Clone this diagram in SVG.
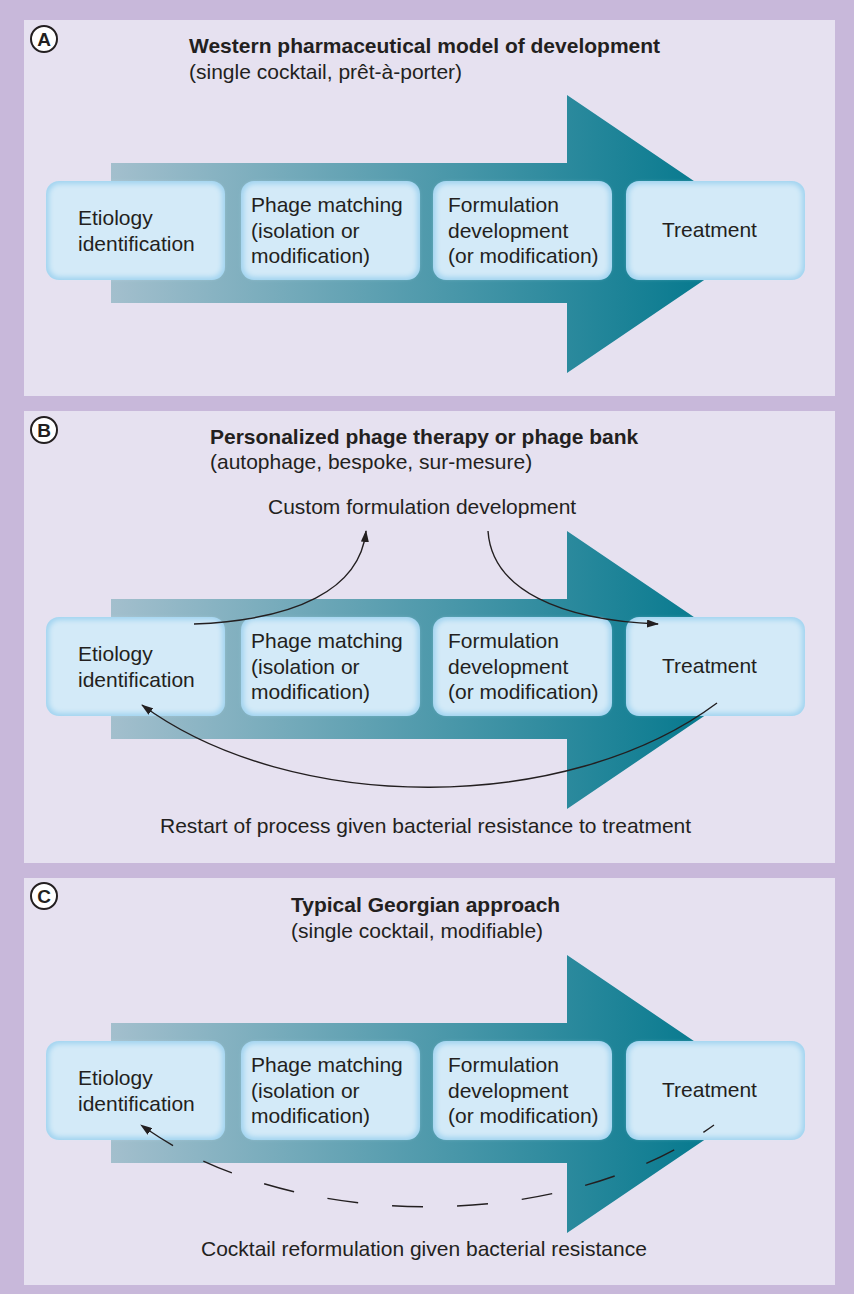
<svg xmlns="http://www.w3.org/2000/svg" width="854" height="1294" viewBox="0 0 854 1294">
<defs>
<style>
text{font-family:"Liberation Sans",Arial,sans-serif;fill:#231f20;font-size:21px}
.b{font-weight:bold}
.lt{font-weight:bold;font-size:19px;text-anchor:middle}
.pan{fill:#e6e1f0}
.bo{fill:#a2d4f0}
.bi{fill:#d3eaf8;filter:url(#soft)}
.con{fill:none;stroke:#231f20;stroke-width:1.4}
.dash{stroke-dasharray:31 34;stroke-dashoffset:18}
.arr{fill:url(#ag)}
.circ{fill:#fff;stroke:#231f20;stroke-width:2}
</style>
<linearGradient id="ag" gradientUnits="userSpaceOnUse" x1="111" y1="0" x2="700" y2="0">
<stop offset="0" stop-color="#a3bfcd"/>
<stop offset="1" stop-color="#087a8f"/>
</linearGradient>
<filter id="soft" x="-10%" y="-10%" width="120%" height="120%"><feGaussianBlur stdDeviation="2.4"/></filter>
<marker id="ah" viewBox="0 0 12 8" refX="11" refY="4" markerWidth="12" markerHeight="8" markerUnits="userSpaceOnUse" orient="auto"><path d="M0,0 L12,4 L0,8 Z" fill="#231f20"/></marker>
<path id="bigarrow" d="M111,163 H567 V95 L772,234 L567,373 V303 H111 Z"/>
</defs>
<rect width="854" height="1294" fill="#c8b8da"/>

<g id="panelA">
<rect class="pan" x="24" y="20" width="811" height="376"/>
<circle class="circ" cx="44" cy="39" r="13"/><text class="lt" x="44" y="46">A</text>
<text class="b" x="189" y="53">Western pharmaceutical model of development</text>
<text x="189" y="79">(single cocktail, prêt-à-porter)</text>
<use href="#bigarrow" class="arr"/>
<g id="A-etiology"><rect class="bo" x="46" y="181" width="179" height="99" rx="13"/><rect class="bi" x="49" y="184" width="173" height="93" rx="11"/><text x="78" y="225">Etiology</text><text x="78" y="250.5">identification</text></g>
<g id="A-phage"><rect class="bo" x="241" y="181" width="179" height="99" rx="13"/><rect class="bi" x="244" y="184" width="173" height="93" rx="11"/><text x="251" y="212">Phage matching</text><text x="251" y="237.5">(isolation or</text><text x="251" y="263">modification)</text></g>
<g id="A-formulation"><rect class="bo" x="433" y="181" width="179" height="99" rx="13"/><rect class="bi" x="436" y="184" width="173" height="93" rx="11"/><text x="448" y="212">Formulation</text><text x="448" y="237.5">development</text><text x="448" y="263">(or modification)</text></g>
<g id="A-treatment"><rect class="bo" x="626" y="181" width="179" height="99" rx="13"/><rect class="bi" x="629" y="184" width="173" height="93" rx="11"/><text x="662" y="237">Treatment</text></g>
</g>

<g id="panelB">
<rect class="pan" x="24" y="411" width="811" height="452"/>
<circle class="circ" cx="44" cy="430" r="13"/><text class="lt" x="44" y="437">B</text>
<text class="b" x="210" y="444">Personalized phage therapy or phage bank</text>
<text x="210" y="469">(autophage, bespoke, sur-mesure)</text>
<text x="268" y="514">Custom formulation development</text>
<text x="160" y="833">Restart of process given bacterial resistance to treatment</text>
<use href="#bigarrow" class="arr" transform="translate(0,436)"/>
<g id="B-etiology"><rect class="bo" x="46" y="617" width="179" height="99" rx="13"/><rect class="bi" x="49" y="620" width="173" height="93" rx="11"/><text x="78" y="661">Etiology</text><text x="78" y="686.5">identification</text></g>
<g id="B-phage"><rect class="bo" x="241" y="617" width="179" height="99" rx="13"/><rect class="bi" x="244" y="620" width="173" height="93" rx="11"/><text x="251" y="648">Phage matching</text><text x="251" y="673.5">(isolation or</text><text x="251" y="699">modification)</text></g>
<g id="B-formulation"><rect class="bo" x="433" y="617" width="179" height="99" rx="13"/><rect class="bi" x="436" y="620" width="173" height="93" rx="11"/><text x="448" y="648">Formulation</text><text x="448" y="673.5">development</text><text x="448" y="699">(or modification)</text></g>
<g id="B-treatment"><rect class="bo" x="626" y="617" width="179" height="99" rx="13"/><rect class="bi" x="629" y="620" width="173" height="93" rx="11"/><text x="662" y="673">Treatment</text></g>
</g>

<g id="panelC">
<rect class="pan" x="24" y="878" width="811" height="407"/>
<circle class="circ" cx="44" cy="896" r="13"/><text class="lt" x="44" y="903">C</text>
<text class="b" x="291" y="912">Typical Georgian approach</text>
<text x="291" y="938">(single cocktail, modifiable)</text>
<text x="201" y="1256">Cocktail reformulation given bacterial resistance</text>
<use href="#bigarrow" class="arr" transform="translate(0,860)"/>
<g id="C-etiology"><rect class="bo" x="46" y="1041" width="179" height="99" rx="13"/><rect class="bi" x="49" y="1044" width="173" height="93" rx="11"/><text x="78" y="1085">Etiology</text><text x="78" y="1110.5">identification</text></g>
<g id="C-phage"><rect class="bo" x="241" y="1041" width="179" height="99" rx="13"/><rect class="bi" x="244" y="1044" width="173" height="93" rx="11"/><text x="251" y="1072">Phage matching</text><text x="251" y="1097.5">(isolation or</text><text x="251" y="1123">modification)</text></g>
<g id="C-formulation"><rect class="bo" x="433" y="1041" width="179" height="99" rx="13"/><rect class="bi" x="436" y="1044" width="173" height="93" rx="11"/><text x="448" y="1072">Formulation</text><text x="448" y="1097.5">development</text><text x="448" y="1123">(or modification)</text></g>
<g id="C-treatment"><rect class="bo" x="626" y="1041" width="179" height="99" rx="13"/><rect class="bi" x="629" y="1044" width="173" height="93" rx="11"/><text x="662" y="1097">Treatment</text></g>
</g>

<g id="connectors">
<path class="con" d="M194,624 C 295,620 360,590 366,531" marker-end="url(#ah)"/>
<path class="con" d="M488,531 C 492,590 560,620 658,624" marker-end="url(#ah)"/>
<path class="con" d="M717,703 C 567,815 292,815 142,705" marker-end="url(#ah)"/>
<path class="con dash" d="M714,1125 C 563,1234 292,1234 141,1125" marker-end="url(#ah)"/>
</g>
</svg>
